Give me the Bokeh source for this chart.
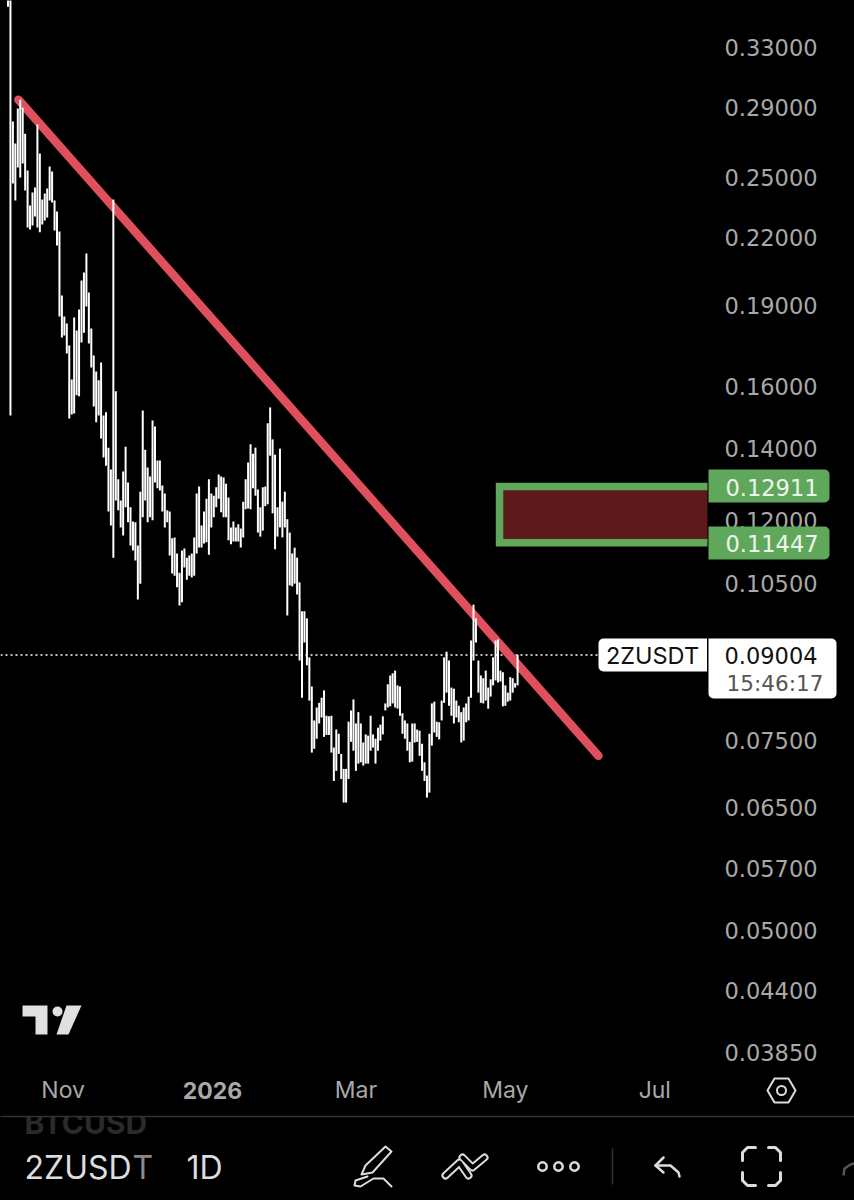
import pandas as pd
from bokeh.plotting import figure
from bokeh.embed import file_html
from bokeh.resources import INLINE
from bokeh.core.properties import value
from bokeh.models import (Range1d, LinearScale, LogAxis, DatetimeAxis, FixedTicker,
                          NumeralTickFormatter)

# ---- data ----
first_day = "2025-10-09"
highs = [.40,.40,.2817,.2688,.2896,.2952,.2902,.2745,.2537,.2354,.2420,.2447,.2799,.2631,.2384,.2415,.2441,.2559,.2532,.2379,
.2324,.2227,.1942,.1857,.1829,.1745,.1623,.1853,.1802,.1885,.2005,.2040,.2125,.1955,.1810,.1708,.1651,.1620,.1683,.1503,
.1513,.1403,.1339,.2384,.1583,.1311,.1253,.1333,.1406,.1302,.1235,.1198,.1196,.1138,.1277,.1519,.1397,.1345,.1319,.1487,
.1468,.1365,.1365,.1294,.1272,.1227,.1224,.1156,.1158,.1119,.1074,.1126,.1131,.1109,.1114,.1119,.1158,.1272,.1291,.1188,
.1224,.1258,.1311,.1272,.1266,.1289,.1325,.1319,.1316,.1299,.1261,.1183,.1198,.1183,.1191,.1180,.1250,.1311,.1359,.1413,
.1385,.1403,.1283,.1235,.1289,.1291,.1478,.1529,.1428,.1382,.1235,.1400,.1250,.1277,.1204,.1170,.1119,.1133,.1109,.1052,
.0989,.0989,.0974,.0896,.0842,.0783,.0805,.0813,.0822,.0835,.0791,.0790,.0791,.0739,.0768,.0761,.0729,.0706,.0706,.0781,
.0800,.0819,.0778,.0797,.0778,.0747,.0760,.0758,.0791,.0760,.0753,.0771,.0776,.0790,.0812,.0846,.0862,.0866,.0871,.0844,
.0842,.0795,.0783,.0778,.0748,.0778,.0778,.0768,.0766,.0745,.0716,.0696,.0761,.0812,.0815,.0781,.0780,.0817,.0896,.0907,
.0890,.0840,.0838,.0817,.0808,.0797,.0805,.0812,.0824,.0929,.1003,.0974,.0890,.0862,.0857,.0871,.0840,.0855,.0896,.0929,
.0931,.0871,.0868,.0844,.0831,.0859,.0857,.0848,.0901]
lows = [.360,.1503,.2467,.2379,.2553,.2499,.2575,.2431,.2246,.2237,.2256,.2300,.2246,.2223,.2261,.2280,.2295,.2379,.2369,.2232,
.2161,.1857,.1775,.1783,.1716,.1493,.1506,.1509,.1569,.1566,.1757,.1794,.1897,.1753,.1665,.1532,.1481,.1503,.1431,.1374,
.1350,.1224,.1188,.1109,.1253,.1227,.1183,.1163,.1235,.1196,.1138,.1126,.1102,.1014,.1049,.1209,.1253,.1196,.1209,.1201,
.1302,.1286,.1280,.1224,.1183,.1196,.1114,.1072,.1067,.1041,.1001,.1008,.1086,.1058,.1067,.1063,.1067,.1119,.1133,.1133,
.1143,.1146,.1116,.1183,.1209,.1235,.1258,.1222,.1209,.1209,.1151,.1141,.1148,.1148,.1148,.1133,.1158,.1230,.1232,.1230,
.1286,.1266,.1170,.1160,.1175,.1238,.1243,.1379,.1219,.1129,.1160,.1183,.1158,.1183,.0980,.1045,.1043,.1049,.1025,.0890,
.0822,.0925,.0881,.0817,.0731,.0737,.0753,.0778,.0788,.0756,.0759,.0759,.0731,.0688,.0703,.0729,.0691,.0657,.0657,.0691,
.0748,.0734,.0703,.0714,.0716,.0711,.0714,.0714,.0734,.0739,.0714,.0734,.0750,.0760,.0800,.0805,.0807,.0812,.0805,.0803,
.0791,.0761,.0753,.0734,.0716,.0717,.0747,.0748,.0726,.0703,.0688,.0664,.0671,.0742,.0763,.0756,.0752,.0783,.0813,.0831,
.0808,.0791,.0778,.0788,.0780,.0747,.0750,.0780,.0783,.0822,.0890,.0925,.0831,.0813,.0812,.0817,.0803,.0824,.0844,.0853,
.0849,.0851,.0807,.0808,.0815,.0817,.0831,.0840,.0844]
price_ticks = [.33,.29,.25,.22,.19,.16,.14,.12,.105,.075,.065,.057,.05,.044,.0385]
month_ticks = ["2025-10-31 12:00","2026-02-28","2026-04-30","2026-06-30"]
month_labels = ["Nov","Mar","May","Jul"]
year_tick = "2025-12-31 12:00"
year_label = "2026"
trend_dates = ["2025-10-13 06:00","2026-06-07 00:00"]
trend_prices = [.2952,.0726]
zone_top = .12911
zone_bottom = .11447
zone_start = "2026-04-27 15:00"
zone_end = "2026-07-21 12:00"
last_price = .09004
symbol = "2ZUSDT"
countdown = "15:46:17"

# ---- style ----
FONT = "Inter"
NUM_FONT = "DejaVu Sans"
AXIS_GREY = "#a8a8a8"
GREEN = "#5fa85b"
RED = "#e0505c"
ICON = "#dcdcdc"
W, H = 854, 1200
PX_PER_DAY = 2.45

def ms(t):
    return pd.Timestamp(t).value / 1e6

day_ms = 86400000.0
x0 = ms(first_day) - 7.5 / PX_PER_DAY * day_ms
x1 = x0 + W / PX_PER_DAY * day_ms

def px_x(px):
    return x0 + px / PX_PER_DAY * day_ms

dates = pd.date_range(first_day, periods=len(highs)).tolist()

p = figure(width=W, height=H, output_backend="svg", toolbar_location=None,
           x_axis_type="datetime", y_axis_type="log",
           x_axis_location=None, y_axis_location=None,
           x_range=Range1d(x0, x1), y_range=Range1d(0.02806, 0.3649),
           min_border=0, background_fill_color="#000000", border_fill_color="#000000",
           outline_line_color=None)
p.grid.visible = False
p.extra_x_ranges["px"] = Range1d(0, W)
p.extra_y_ranges["px"] = Range1d(H, 0)
p.extra_x_scales["px"] = LinearScale()
p.extra_y_scales["px"] = LinearScale()
PX = dict(x_range_name="px", y_range_name="px")

# axes placed inside the frame
yax = LogAxis(ticker=FixedTicker(ticks=price_ticks), formatter=NumeralTickFormatter(format="0.00000"),
              fixed_location=px_x(725), axis_line_color=None, major_tick_line_color=None,
              minor_tick_line_color=None, major_label_standoff=-7,
              major_label_text_color=AXIS_GREY, major_label_text_font=NUM_FONT,
              major_label_text_font_size="22.5px")
p.add_layout(yax, "right")

MONTH_LEVEL = 0.03709
YEAR_LEVEL = 0.03664
xax = DatetimeAxis(ticker=FixedTicker(ticks=[ms(t) for t in month_ticks]),
                   major_label_overrides={ms(t): l for t, l in zip(month_ticks, month_labels)},
                   fixed_location=MONTH_LEVEL, axis_line_color=None, major_tick_line_color=None,
                   minor_tick_line_color=None, major_label_standoff=0,
                   major_label_text_color=AXIS_GREY, major_label_text_font=FONT,
                   major_label_text_font_size="23px")
p.add_layout(xax, "below")
yrax = DatetimeAxis(ticker=FixedTicker(ticks=[ms(year_tick)]),
                    major_label_overrides={ms(year_tick): year_label},
                    fixed_location=YEAR_LEVEL, axis_line_color=None, major_tick_line_color=None,
                    minor_tick_line_color=None, major_label_standoff=0,
                    major_label_text_color=AXIS_GREY, major_label_text_font=FONT,
                    major_label_text_font_style="bold", major_label_text_font_size="23px")
p.add_layout(yrax, "below")

# last-price dotted line
p.segment(x0=[x0], x1=[px_x(598)], y0=[last_price], y1=[last_price],
          line_color="#ffffff", line_width=1.5, line_dash="2 3")

# zone
zs, ze = ms(zone_start), ms(zone_end)
p.quad(left=[zs], right=[ze], top=[zone_top], bottom=[zone_bottom], fill_color="#5c1a1d", line_color=None)
p.multi_line(xs=[[ze, zs, zs, ze]], ys=[[zone_top, zone_top, zone_bottom, zone_bottom]],
             line_color=GREEN, line_width=7.5, line_join="miter")

# trend line, below the bars
p.line(x=pd.to_datetime(trend_dates).tolist(), y=trend_prices, line_color=RED, line_width=8.5, line_cap="round")

# price bars
p.segment(x0=dates, x1=dates, y0=lows, y1=highs, line_color="#ffffff", line_width=2)

# price tags (screen chrome)
TAG = dict(level="overlay", line_color=None, **PX)
p.quad(left=[708, 708], right=[829, 829], top=[469, 526], bottom=[502, 559], fill_color=GREEN,
       border_radius=(0, 5, 5, 0), **TAG)
p.quad(left=[598], right=[706.5], top=[638], bottom=[671], fill_color="#ffffff", border_radius=(5, 0, 0, 5), **TAG)
p.quad(left=[708], right=[836], top=[638], bottom=[698], fill_color="#ffffff", border_radius=(0, 5, 5, 5), **TAG)

def text(x, y, s, color, size, align="left", style="normal", font=FONT):
    p.text(x=[x], y=[y], text=[s], text_color=color, text_font=value(font), text_font_size=f"{size}px",
           text_align=align, text_baseline="middle", text_font_style=style, level="overlay", **PX)

text(725, 487, f"{zone_top:.5f}", "#f0f6ee", 22.5, font=NUM_FONT)
text(725, 543, f"{zone_bottom:.5f}", "#f0f6ee", 22.5, font=NUM_FONT)
text(652, 655, symbol, "#111111", 23.5, "center")
text(724, 655, f"{last_price:.5f}", "#111111", 22.5, font=NUM_FONT)
text(726, 683, countdown, "#555555", 21.6, font=NUM_FONT)

# bottom bar
text(24, 1122, "BTCUSD", "#2a2a2a", 30, style="bold")
text(24, 1167, symbol[:-1], "#dddddd", 32)
text(132, 1167, symbol[-1], "#8a8a8a", 32)
text(186, 1167, "1D", "#dddddd", 32)
# hide the clipped top of the faded ticker
p.quad(left=[0], right=[200], top=[1100], bottom=[1115.5], fill_color="#000000", line_color=None, level="overlay", **PX)
p.segment(x0=[0], x1=[W], y0=[1116], y1=[1116], line_color="#333333", line_width=1.5, level="overlay", **PX)

# logo
p.patches(xs=[[22, 47, 47, 35, 35, 22], [66, 81, 68, 56]],
          ys=[[1005, 1005, 1034, 1034, 1016, 1016], [1005, 1005, 1034, 1034]],
          fill_color="#e0e0e0", line_color=None, **PX)
p.circle(x=[57], y=[1011], radius=5, fill_color="#e0e0e0", line_color=None, **PX)

# icons
icons = [
    ([767, 774, 788, 795, 788, 774, 767], [1090, 1078, 1078, 1090, 1102, 1102, 1090], 2),
    ([361, 365, 385, 391, 372, 361], [1174, 1165, 1146, 1151, 1172, 1174], 2),
    ([367, 355, 354, 360, 373, 383, 391], [1176, 1180, 1185, 1186, 1178, 1178, 1186], 2),
    ([663, 655, 663], [1157, 1165, 1172], 2.5),
    ([655, 670, 678, 679], [1165, 1165, 1172, 1176], 2.5),
    ([742, 742, 747, 755], [1160, 1152, 1147, 1147], 3),
    ([768, 775, 780, 780], [1147, 1147, 1152, 1160], 3),
    ([742, 742, 747, 755], [1172, 1180, 1185, 1185], 3),
    ([768, 775, 780, 780], [1185, 1185, 1180, 1172], 3),
]
for xs, ys, lw in icons:
    p.line(x=xs, y=ys, line_color=ICON, line_width=lw, line_cap="round", line_join="round", **PX)
p.line(x=[843, 844, 850, 854], y=[1175, 1168, 1164, 1163], line_color="#555555", line_width=2.5, **PX)
p.circle(x=[781], y=[1090], radius=4.5, fill_color=None, line_color=ICON, line_width=2, **PX)
for xs, ys in [([445, 459, 468], [1175, 1162, 1175]), ([462, 472, 484], [1157, 1167, 1157])]:
    p.line(x=xs, y=ys, line_color=ICON, line_width=8, line_cap="round", line_join="round", **PX)
for xs, ys in [([445, 459, 468], [1175, 1162, 1175]), ([462, 472, 484], [1157, 1167, 1157])]:
    p.line(x=xs, y=ys, line_color="#000000", line_width=4, line_cap="round", line_join="round", **PX)
p.circle(x=[542, 558, 574], y=[1166, 1166, 1166], radius=4.2, fill_color=None, line_color=ICON, line_width=2.5, **PX)
p.segment(x0=[612], x1=[612], y0=[1148], y1=[1184], line_color="#333333", line_width=1.5, **PX)

html = file_html(p, INLINE)
html = html.replace("<body>", '<body style="margin:0;background:#000;overflow:hidden">')
open("out.html", "w").write(html)
